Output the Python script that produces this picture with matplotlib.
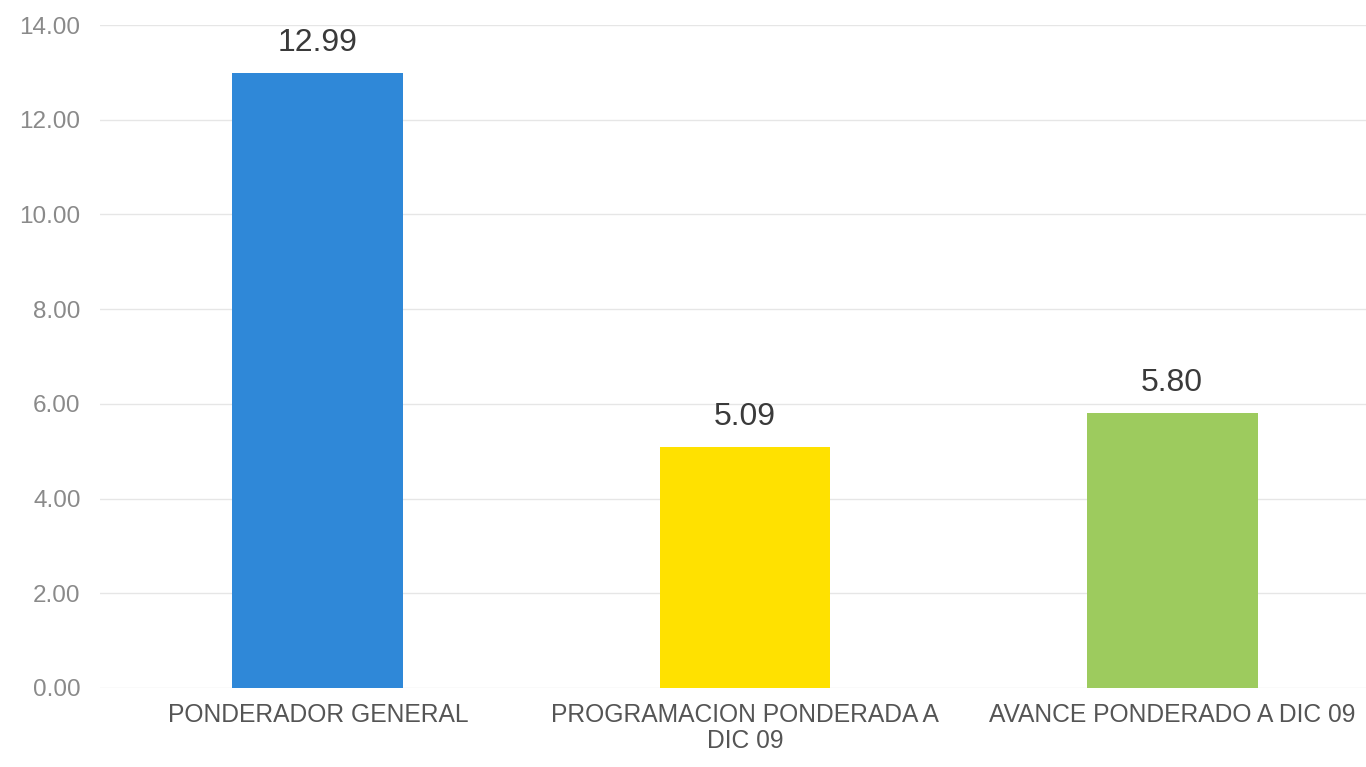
import matplotlib.pyplot as plt

# Datos
categorias = ['PONDERADOR GENERAL', 'PROGRAMACION PONDERADA A\nDIC 09', 'AVANCE PONDERADO A DIC 09']
valores = [12.99, 5.09, 5.80]
colores = ['#2F88D8', '#FFE100', '#9DCB5E']
ticks_y = [0, 2, 4, 6, 8, 10, 12, 14]

plt.rcParams['font.family'] = ['Liberation Sans', 'DejaVu Sans']

fig = plt.figure(figsize=(13.66, 7.67), dpi=100)
ax = fig.add_axes([100 / 1366, 79 / 767, 1266 / 1366, 663 / 767])

x = list(range(len(categorias)))
ax.bar(x, valores, width=0.4, color=colores, zorder=2)

# Etiquetas de valor
for xi, v in zip(x, valores):
    ax.annotate(f'{v:.2f}', (xi, v), xytext=(0, 11), textcoords='offset points',
                ha='center', va='bottom', fontsize=23, color='#3a3a3a')

ax.set_xlim(-0.51, 2.454)
ax.set_ylim(0, 14)
ax.set_yticks(ticks_y)
ax.set_yticklabels([f'{t:.2f}' for t in ticks_y])
ax.set_xticks(x)
ax.set_xticklabels(categorias, fontsize=17.7, color='#555555', linespacing=1.1)
ax.tick_params(axis='y', labelsize=17.5, labelcolor='#8a8a8a', length=0, pad=14)
ax.tick_params(axis='x', length=0, pad=11)

ax.yaxis.grid(True, color='#e6e6e6', linewidth=1, zorder=0)
for s in ax.spines.values():
    s.set_visible(False)

plt.savefig('out.png', dpi=100)
